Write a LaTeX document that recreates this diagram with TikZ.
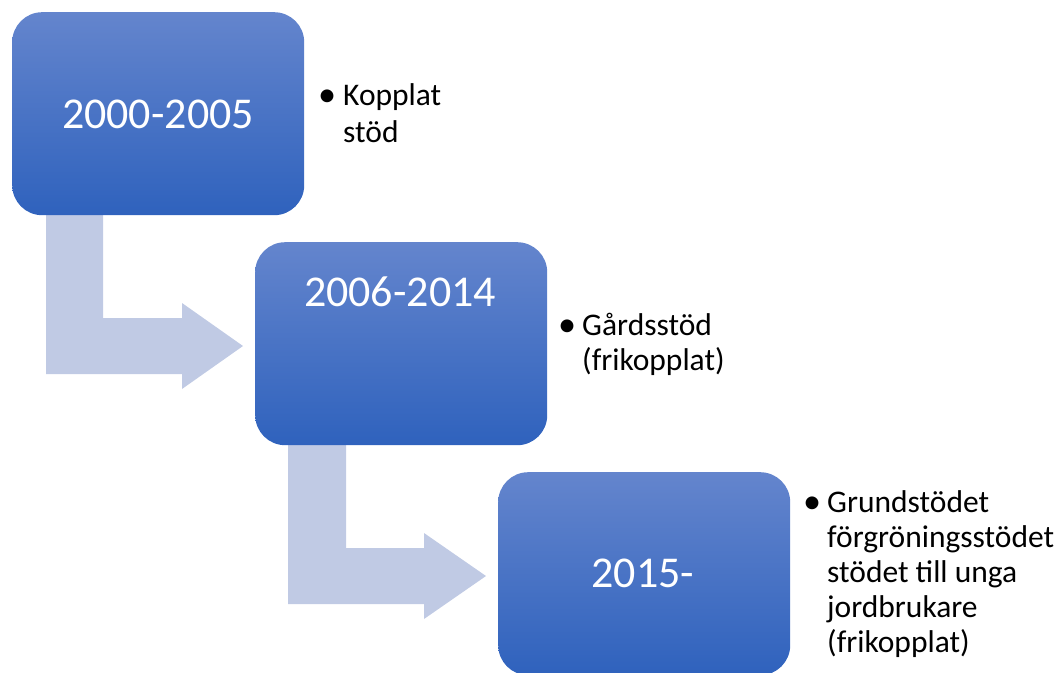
\documentclass[tikz,border=0pt]{standalone}
\usepackage{fontspec}
\usepackage{graphicx}
\setmainfont{Carlito}
\definecolor{boxtop}{RGB}{100,133,205}
\definecolor{boxbot}{RGB}{47,98,189}
\definecolor{arrowfill}{RGB}{192,202,228}
\newcommand{\bigbullet}{\raisebox{-1.5pt}{\scalebox{1.15}{•}}}
\begin{document}
\begin{tikzpicture}[x=1pt,y=-1pt,
  yearbox/.style={rounded corners=30pt, top color=boxtop, bottom color=boxbot, draw=none,
    minimum width=292pt, minimum height=203pt, inner sep=0pt, anchor=north west},
  yeartext/.style={text=white, font=\fontsize{44}{50}\selectfont, anchor=base, inner sep=0pt},
  bulletsym/.style={font=\fontsize{31.5}{36}\selectfont, anchor=base west, inner sep=0pt},
  bullettext/.style={font=\fontsize{31.5}{36}\selectfont, anchor=base west, inner sep=0pt},
  bentarrow/.style={fill=arrowfill, draw=none}]
\useasboundingbox (0,0) rectangle (1060,672);
% bent arrows (behind boxes)
\fill[bentarrow] (46,200) -- (46,374) -- (182,374) -- (182,389) -- (243,346) -- (182,303) -- (182,318) -- (103,318) -- (103,200) -- cycle;
\fill[bentarrow] (288,430) -- (288,604) -- (424,604) -- (424,619) -- (486,576) -- (424,533) -- (424,548) -- (346,548) -- (346,430) -- cycle;
% boxes
\node[yearbox] (b1) at (12,12) {};
\node[yearbox] (b2) at (255,242) {};
\node[yearbox] (b3) at (498,472) {};
\node[yeartext] (t1) at (158,128) {2000-2005};
\node[yeartext] (t2) at (400,306) {2006-2014};
\node[yeartext] (t3) at (643,587) {2015-};
% bullets
\node[bulletsym] (d1) at (318,105) {\bigbullet};
\node[bullettext] (l1) at (343,105) {\begin{tabular}[t]{@{}l@{}}Kopplat\\[1.7pt]stöd\end{tabular}};
\node[bulletsym] (d2) at (558,335) {\bigbullet};
\node[bullettext] (l2) at (582,335) {\begin{tabular}[t]{@{}l@{}}Gårdsstöd\\[-1pt](frikopplat)\end{tabular}};
\node[bulletsym] (d3) at (803,512) {\bigbullet};
\node[bullettext] (l3) at (827,512) {\begin{tabular}[t]{@{}l@{}}Grundstödet\\[-1pt]förgröningsstödet\\[-1pt]stödet till unga\\[-1pt]jordbrukare\\[-1pt](frikopplat)\end{tabular}};
\end{tikzpicture}
\end{document}
